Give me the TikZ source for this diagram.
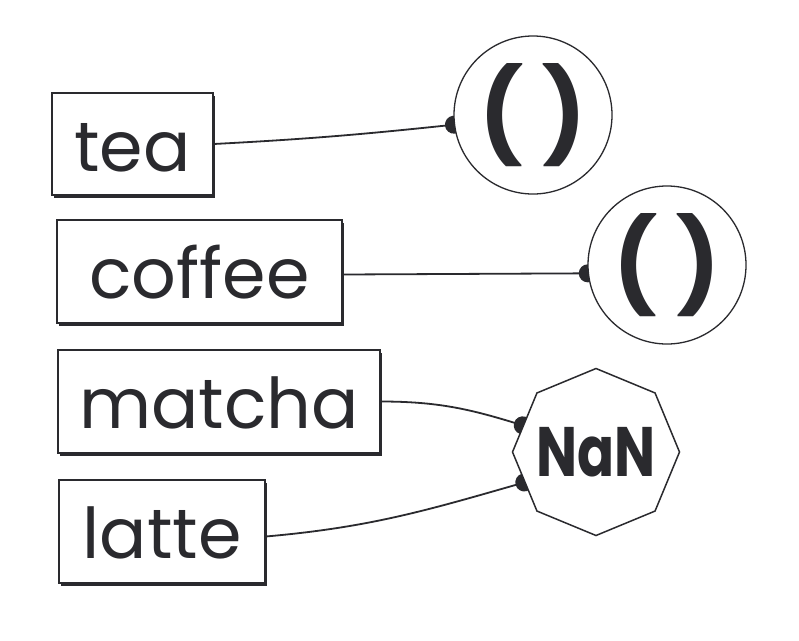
\documentclass[tikz,border=0pt]{standalone}
\usepackage{fontspec}
\setmainfont{Poppins}
\usetikzlibrary{shapes.geometric,shadows,arrows.meta,backgrounds}
\definecolor{ink}{HTML}{2A2A2E}
\begin{document}
\begin{tikzpicture}[x=1pt,y=-1pt,
  word/.style={draw=ink, line width=1.3pt, fill=white, inner sep=0pt, text=ink,
    text height=54pt, text depth=0pt,
    font=\fontsize{70}{80}\selectfont,
    drop shadow={shadow xshift=1.5pt, shadow yshift=-2.5pt, opacity=1, fill=ink}},
  valcirc/.style={circle, draw=ink, line width=1.3pt, fill=white, minimum size=158pt,
    inner sep=0pt, text=ink, font=\bfseries\fontsize{92}{100}\selectfont},
  valoct/.style={regular polygon, regular polygon sides=8, shape border rotate=22.5,
    draw=ink, line width=1.5pt, fill=white, minimum size=167pt, inner sep=0pt,
    text=ink, font=\bfseries\fontsize{70}{80}\selectfont},
  link/.style={draw=ink, line width=1.8pt, -{Circle[length=18pt]}, shorten >=-9pt}
]
\useasboundingbox (0,0) rectangle (799,640);

\node[word, minimum width=161pt, minimum height=102pt] (tea) at (132.5,144) {tea};
\node[word, minimum width=285pt, minimum height=103pt] (coffee) at (199.5,271.5) {coffee};
\node[word, minimum width=322pt, minimum height=103pt] (matcha) at (219,401.5) {matcha};
\node[word, minimum width=206pt, minimum height=103pt] (latte) at (162,531.5) {latte};

\node[valcirc] (c1) at (533,115) {( )};
\node[valcirc] (c2) at (667,265) {( )};
\node[valoct] (oct) at (596,452) {\makebox[0pt]{\raisebox{-24.5pt}[0pt][0pt]{\scalebox{0.78}[1]{NaN}}}};

\begin{scope}[on background layer]
  \fill[white] (0,0) rectangle (799,640);
  \draw[link] (tea.east) to[out=3, in=186] (c1.187);
  \draw[link] ([yshift=-3pt]coffee.east) -- (c2.186);
  \draw[link] (matcha.east) to[out=0, in=163] (oct.160);
  \draw[link] ([yshift=-5pt]latte.east) to[out=5, in=196] (oct.203);
\end{scope}
\end{tikzpicture}
\end{document}
